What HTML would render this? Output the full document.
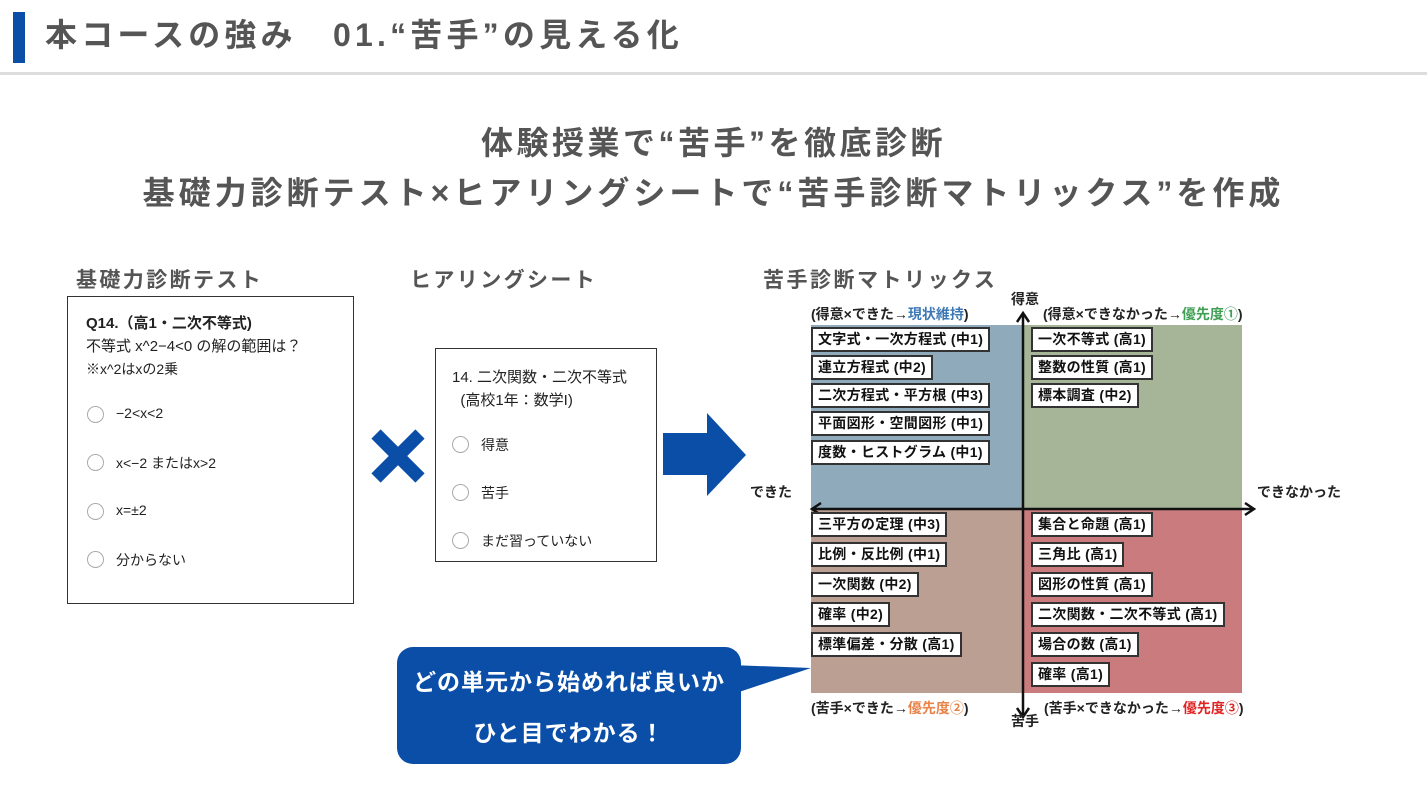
<!DOCTYPE html>
<html><head><meta charset="utf-8"><style>
body{margin:0;width:1427px;height:800px;background:#fff;position:relative;overflow:hidden;font-family:"Liberation Sans","Noto Sans CJK JP",sans-serif;color:#555}
.a{position:absolute;white-space:nowrap}
.b{font-weight:bold}
.lb{position:absolute;background:#fff;border:2px solid #333;height:21px;line-height:21px;font-size:14px;font-weight:bold;color:#111;padding:0 5px;white-space:nowrap;letter-spacing:0.3px}
.r{position:absolute;width:15px;height:15px;border:1.5px solid #aaa;border-radius:50%}
.q{position:absolute}
.t{font-size:14px;color:#222;font-weight:bold}
</style></head><body>
<div class="a" style="left:13px;top:12px;width:12px;height:51px;background:#0b4ea8"></div>
<div class="a b" style="left:45px;top:12px;font-size:32px;line-height:46px;color:#555;letter-spacing:4.2px">本コースの強み　01.“苦手”の見える化</div>
<div class="a" style="left:0;top:72px;width:1427px;height:3px;background:#ddd"></div>
<div class="a b" style="left:0;width:1427px;text-align:center;top:120px;font-size:32px;line-height:46px;letter-spacing:3.5px">体験授業で“苦手”を徹底診断</div>
<div class="a b" style="left:0;width:1427px;text-align:center;top:170px;font-size:32px;line-height:46px;letter-spacing:4px">基礎力診断テスト×ヒアリングシートで“苦手診断マトリックス”を作成</div>
<div class="a b" style="left:76px;top:264px;font-size:21px;letter-spacing:2.4px">基礎力診断テスト</div>
<div class="a b" style="left:410px;top:264px;font-size:21px;letter-spacing:2.4px">ヒアリングシート</div>
<div class="a b" style="left:763px;top:264px;font-size:21px;letter-spacing:2.5px">苦手診断マトリックス</div>

<div class="a" style="left:67px;top:296px;width:285px;height:306px;border:1.5px solid #333"></div>
<div class="a" style="left:86px;top:312px;font-size:15px;color:#222;line-height:23px"><b>Q14.（高1・二次不等式)</b><br>不等式 x^2−4&lt;0 の解の範囲は？<br><span style="font-size:14px">※x^2はxの2乗</span></div>
<div class="r" style="left:87px;top:406px"></div><div class="a" style="left:116px;top:405px;font-size:14px;color:#222">−2&lt;x&lt;2</div>
<div class="r" style="left:87px;top:454px"></div><div class="a" style="left:116px;top:453px;font-size:14px;color:#222">x&lt;−2 またはx&gt;2</div>
<div class="r" style="left:87px;top:503px"></div><div class="a" style="left:116px;top:502px;font-size:14px;color:#222">x=±2</div>
<div class="r" style="left:87px;top:551px"></div><div class="a" style="left:116px;top:550px;font-size:14px;color:#222">分からない</div>

<svg class="a" style="left:370px;top:428px" width="56" height="56"><path d="M6 6 L50 50 M50 6 L6 50" stroke="#0b4ea8" stroke-width="13"/></svg>

<div class="a" style="left:435px;top:348px;width:220px;height:212px;border:1.5px solid #333"></div>
<div class="a" style="left:452px;top:366px;font-size:15px;color:#222;line-height:23px">14. 二次関数・二次不等式<br>&nbsp;&nbsp;(高校1年：数学I)</div>
<div class="r" style="left:452px;top:436px"></div><div class="a" style="left:481px;top:435px;font-size:14px;color:#222">得意</div>
<div class="r" style="left:452px;top:484px"></div><div class="a" style="left:481px;top:483px;font-size:14px;color:#222">苦手</div>
<div class="r" style="left:452px;top:532px"></div><div class="a" style="left:481px;top:531px;font-size:14px;color:#222">まだ習っていない</div>

<svg class="a" style="left:660px;top:410px" width="90" height="90"><path d="M3 23 H47 V3 L86 45 L47 86 V65 H3 Z" fill="#0b4ea8"/></svg>

<div class="q" style="left:811px;top:325px;width:212px;height:184px;background:#8faaba"></div>
<div class="q" style="left:1023px;top:325px;width:219px;height:184px;background:#a6b597"></div>
<div class="q" style="left:811px;top:509px;width:212px;height:184px;background:#bb9f92"></div>
<div class="q" style="left:1023px;top:509px;width:219px;height:184px;background:#c97b7e"></div>
<svg class="a" style="left:790px;top:305px" width="480" height="420">
<path d="M233 8 V412 M22 204 H464" stroke="#111" stroke-width="2.5" fill="none"/>
<path d="M227 17 L233 8 L239 17 M227 403 L233 412 L239 403 M31 198 L22 204 L31 210 M455 198 L464 204 L455 210" stroke="#111" stroke-width="2.5" fill="none"/>
</svg>
<div class="a t" style="left:1011px;top:289px">得意</div>
<div class="a t" style="left:1011px;top:711px">苦手</div>
<div class="a t" style="left:750px;top:482px">できた</div>
<div class="a t" style="left:1257px;top:482px">できなかった</div>
<div class="a t" style="left:811px;top:304px">(得意×できた→<span style="color:#3c78b5">現状維持</span>)</div>
<div class="a t" style="left:1043px;top:304px">(得意×できなかった→<span style="color:#3f9f55">優先度①</span>)</div>
<div class="a t" style="left:811px;top:698px">(苦手×できた→<span style="color:#e8834a">優先度②</span>)</div>
<div class="a t" style="left:1044px;top:698px">(苦手×できなかった→<span style="color:#e02424">優先度③</span>)</div>

<div class="lb" style="left:811px;top:327px">文字式・一次方程式 (中1)</div>
<div class="lb" style="left:811px;top:355px">連立方程式 (中2)</div>
<div class="lb" style="left:811px;top:383px">二次方程式・平方根 (中3)</div>
<div class="lb" style="left:811px;top:411px">平面図形・空間図形 (中1)</div>
<div class="lb" style="left:811px;top:440px">度数・ヒストグラム (中1)</div>
<div class="lb" style="left:1031px;top:327px">一次不等式 (高1)</div>
<div class="lb" style="left:1031px;top:355px">整数の性質 (高1)</div>
<div class="lb" style="left:1031px;top:383px">標本調査 (中2)</div>

<div class="lb" style="left:811px;top:512px">三平方の定理 (中3)</div>
<div class="lb" style="left:811px;top:542px">比例・反比例 (中1)</div>
<div class="lb" style="left:811px;top:572px">一次関数 (中2)</div>
<div class="lb" style="left:811px;top:602px">確率 (中2)</div>
<div class="lb" style="left:811px;top:632px">標準偏差・分散 (高1)</div>
<div class="lb" style="left:1031px;top:512px">集合と命題 (高1)</div>
<div class="lb" style="left:1031px;top:542px">三角比 (高1)</div>
<div class="lb" style="left:1031px;top:572px">図形の性質 (高1)</div>
<div class="lb" style="left:1031px;top:602px">二次関数・二次不等式 (高1)</div>
<div class="lb" style="left:1031px;top:632px">場合の数 (高1)</div>
<div class="lb" style="left:1031px;top:662px">確率 (高1)</div>

<svg class="a" style="left:700px;top:640px" width="115" height="80"><path d="M30 25 L111 28 L30 55 Z" fill="#0b4ea8"/></svg>
<div class="a" style="left:397px;top:647px;width:344px;height:117px;background:#0b4ea8;border-radius:16px"></div>
<div class="a b" style="left:397px;top:667px;width:344px;text-align:center;color:#fff;font-size:23px;line-height:30px;letter-spacing:1px">どの単元から始めれば良いか</div>
<div class="a b" style="left:397px;top:718px;width:344px;text-align:center;color:#fff;font-size:23px;line-height:30px;letter-spacing:1px">ひと目でわかる！</div>
</body></html>
